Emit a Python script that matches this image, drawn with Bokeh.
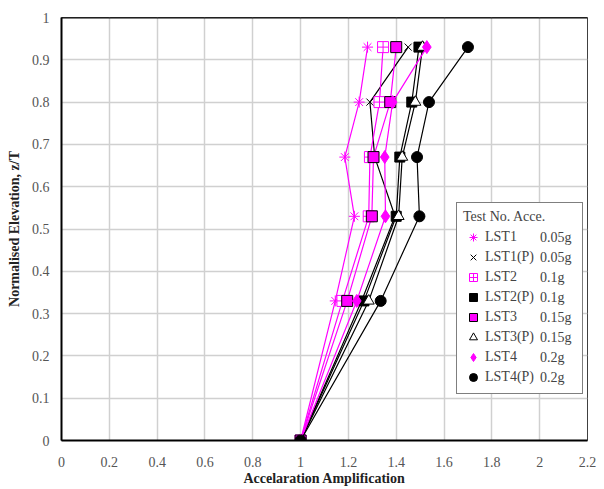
from bokeh.plotting import figure
from bokeh.models import Legend, LegendItem, Span, FixedTicker, Range1d
from bokeh.embed import file_html
from bokeh.resources import INLINE

# ---------------- data ----------------
elevations = [0.0, 0.33, 0.53, 0.67, 0.80, 0.93]

series_names = ["LST1", "LST1(P)", "LST2", "LST2(P)", "LST3", "LST3(P)", "LST4", "LST4(P)"]
series_acce = ["0.05g", "0.05g", "0.1g", "0.1g", "0.15g", "0.15g", "0.2g", "0.2g"]

lst1 = [1.0, 1.145, 1.225, 1.185, 1.245, 1.280]
lst1_p = [1.0, 1.255, 1.395, 1.310, 1.290, 1.450]
lst2 = [1.0, 1.175, 1.285, 1.290, 1.330, 1.345]
lst2_p = [1.0, 1.265, 1.400, 1.415, 1.465, 1.495]
lst3 = [1.0, 1.195, 1.298, 1.305, 1.375, 1.400]
lst3_p = [1.0, 1.285, 1.410, 1.425, 1.480, 1.510]
lst4 = [1.0, 1.235, 1.355, 1.352, 1.385, 1.528]
lst4_p = [1.0, 1.335, 1.497, 1.487, 1.537, 1.700]

series_values = [lst1, lst1_p, lst2, lst2_p, lst3, lst3_p, lst4, lst4_p]

x_ticks = [0, 0.2, 0.4, 0.6, 0.8, 1, 1.2, 1.4, 1.6, 1.8, 2, 2.2]
x_tick_labels = ["0", "0.2", "0.4", "0.6", "0.8", "1", "1.2", "1.4", "1.6", "1.8", "2", "2.2"]
y_ticks = [0, 0.1, 0.2, 0.3, 0.4, 0.5, 0.6, 0.7, 0.8, 0.9, 1]
y_tick_labels = ["0", "0.1", "0.2", "0.3", "0.4", "0.5", "0.6", "0.7", "0.8", "0.9", "1"]

# ---------------- styles ----------------
MAG = "#ff00ff"
BLK = "#000000"
styles = {
    "LST1":    dict(color=MAG, marker="asterisk", fill=MAG, line=MAG, size=11),
    "LST1(P)": dict(color=BLK, marker="x", fill=BLK, line=BLK, size=10),
    "LST2":    dict(color=MAG, marker="square_cross", fill="white", line=MAG, size=11),
    "LST2(P)": dict(color=BLK, marker="square", fill=BLK, line=BLK, size=10),
    "LST3":    dict(color=MAG, marker="square", fill=MAG, line=BLK, size=11),
    "LST3(P)": dict(color=BLK, marker="triangle", fill="white", line=BLK, size=11),
    "LST4":    dict(color=MAG, marker="diamond", fill=MAG, line=MAG, size=13),
    "LST4(P)": dict(color=BLK, marker="circle", fill=BLK, line=BLK, size=11),
}

SERIF = "Liberation Serif"

p = figure(width=604, height=489,
           x_range=Range1d(0, 2.2), y_range=Range1d(0, 1),
           output_backend="svg", toolbar_location=None,
           min_border_left=61, min_border_right=17,
           min_border_top=17, min_border_bottom=49)

p.background_fill_color = "white"
p.outline_line_color = "#404040"
p.outline_line_width = 1

# axes
p.xaxis.ticker = FixedTicker(ticks=x_ticks)
p.xaxis.major_label_overrides = dict(zip(x_ticks, x_tick_labels))
p.yaxis.ticker = FixedTicker(ticks=y_ticks)
p.yaxis.major_label_overrides = dict(zip(y_ticks, y_tick_labels))

for ax in (p.xaxis, p.yaxis):
    ax.axis_line_color = "black"
    ax.axis_line_width = 2
    ax.major_tick_line_color = None
    ax.minor_tick_line_color = None
    ax.major_label_text_font = SERIF
    ax.major_label_text_font_size = "14px"
    ax.major_label_text_color = "#555555"
    ax.axis_label_text_font = SERIF
    ax.axis_label_text_font_size = "14px"
    ax.axis_label_text_font_style = "bold"
    ax.axis_label_text_color = "#222222"

p.xaxis.axis_label = "Accelaration Amplification"
p.yaxis.axis_label = "Normalised Elevation, z/T"
p.xaxis.major_label_standoff = 10
p.xaxis.axis_label_standoff = 1
p.yaxis.major_label_standoff = 6
p.yaxis.axis_label_standoff = 7

p.xgrid.ticker = FixedTicker(ticks=x_ticks)
p.ygrid.ticker = FixedTicker(ticks=y_ticks)
p.grid.grid_line_color = "#d0d0d0"
p.grid.grid_line_width = 1.5

p.add_layout(Span(location=1.0, dimension="width", line_color="black", line_width=2))

# series
renderers = []
for name, xs in zip(series_names, series_values):
    st = styles[name]
    p.line(xs, elevations, line_color=st["color"], line_width=1.2)
    r = p.scatter(xs, elevations, marker=st["marker"], size=st["size"],
                  fill_color=st["fill"], line_color=st["line"], line_width=1)
    renderers.append(r)

# legend (located in screen units relative to the frame's bottom-left)
LEG_X, LEG_Y = 395, 46
PAD, ROW = 6, 20
legend = Legend(items=[LegendItem(label=nm, renderers=[r]) for nm, r in zip(series_names, renderers)],
                location=(LEG_X, LEG_Y),
                title="Test No. Acce.",
                padding=PAD, spacing=0, margin=0,
                glyph_width=20, glyph_height=ROW, label_height=ROW,
                label_width=91, label_standoff=2, title_standoff=2,
                border_line_color="black", border_line_width=1,
                background_fill_color="white", background_fill_alpha=1.0,
                label_text_font=SERIF, label_text_font_size="14px",
                title_text_font=SERIF, title_text_font_size="14px",
                title_text_font_style="normal")
p.add_layout(legend)

# second, frameless legend column holding the acceleration of each test
acce_legend = Legend(items=[LegendItem(label=acc, renderers=[r]) for acc, r in zip(series_acce, renderers)],
                     location=(LEG_X + 84, LEG_Y + PAD),
                     padding=0, spacing=0, margin=0,
                     glyph_width=0, glyph_height=ROW, label_height=ROW,
                     label_width=30, label_standoff=0,
                     border_line_color=None, background_fill_alpha=0.0,
                     label_text_font=SERIF, label_text_font_size="14px")
p.add_layout(acce_legend)

open("out.html", "w").write(file_html(p, INLINE))
